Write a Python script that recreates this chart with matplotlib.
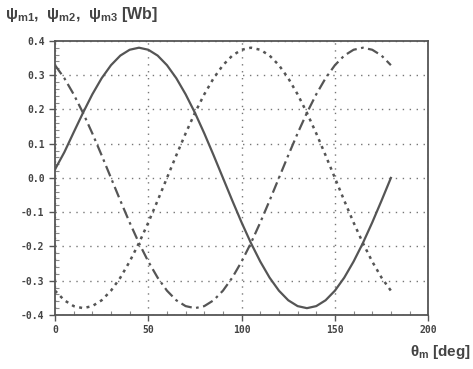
import numpy as np
import matplotlib.pyplot as plt
from matplotlib.ticker import MultipleLocator

plt.rcParams['font.family'] = ['Liberation Sans', 'DejaVu Sans']

theta = [0, 5, 10, 15, 20, 25, 30, 35, 40, 45, 50, 55, 60, 65, 70, 75, 80, 85, 90,
         95, 100, 105, 110, 115, 120, 125, 130, 135, 140, 145, 150, 155, 160, 165,
         170, 175, 180]

psi_m1 = [0.025, 0.075, 0.133, 0.19, 0.244, 0.291, 0.329, 0.357, 0.374, 0.38,
          0.374, 0.357, 0.329, 0.291, 0.244, 0.19, 0.13, 0.066, 0.0, -0.066,
          -0.13, -0.19, -0.244, -0.291, -0.329, -0.357, -0.374, -0.38, -0.374,
          -0.357, -0.329, -0.291, -0.244, -0.19, -0.13, -0.066, 0.0]

psi_m2 = [-0.329, -0.357, -0.374, -0.38, -0.374, -0.357, -0.329, -0.291, -0.244,
          -0.19, -0.13, -0.066, 0.0, 0.066, 0.13, 0.19, 0.244, 0.291, 0.329, 0.357,
          0.374, 0.38, 0.374, 0.357, 0.329, 0.291, 0.244, 0.19, 0.13, 0.066, 0.0,
          -0.066, -0.13, -0.19, -0.244, -0.291, -0.329]

psi_m3 = [0.329, 0.291, 0.244, 0.19, 0.13, 0.066, 0.0, -0.066, -0.13, -0.19,
          -0.244, -0.291, -0.329, -0.357, -0.374, -0.38, -0.374, -0.357, -0.329,
          -0.291, -0.244, -0.19, -0.13, -0.066, 0.0, 0.066, 0.13, 0.19, 0.244,
          0.291, 0.329, 0.357, 0.374, 0.38, 0.374, 0.357, 0.329]

y_ticks = [-0.4, -0.3, -0.2, -0.1, 0.0, 0.1, 0.2, 0.3, 0.4]
y_labels = ['-0.4', '-0.3', '-0.2', '-0.1', '0.0', '0.1', '0.2', '0.3', '0.4']
x_ticks = [0, 50, 100, 150, 200]

fig = plt.figure(figsize=(4.73, 3.69), dpi=100)
ax = fig.add_axes([0.1163, 0.1463, 0.789, 0.743])

line_col = '#555555'
ax.plot(theta, psi_m1, color=line_col, lw=1.6, ls='-')
ax.plot(theta, psi_m2, color=line_col, lw=1.8, ls=(0, (1.2, 1.8)))
ax.plot(theta, psi_m3, color=line_col, lw=1.6, ls=(0, (5, 2, 1.2, 2)))

ax.set_xlim(0, 200)
ax.set_ylim(-0.4, 0.4)
ax.set_xticks(x_ticks)
ax.set_yticks(y_ticks)
ax.set_yticklabels(y_labels)
ax.xaxis.set_minor_locator(MultipleLocator(10))
ax.yaxis.set_minor_locator(MultipleLocator(0.02))
ax.tick_params(which='major', direction='out', length=4, width=1, colors='#555555',
               labelsize=7, labelcolor='#444444')
ax.tick_params(which='minor', direction='in', length=3, width=0.8, colors='#888888')
for lab in ax.get_xticklabels() + ax.get_yticklabels():
    lab.set_family('DejaVu Sans Mono')
    lab.set_fontweight('bold')

ax.grid(True, which='major', ls=(0, (1, 4)), lw=1, color='#777777')

for s in ax.spines.values():
    s.set_color('#555555')
    s.set_linewidth(1.3)

fig.text(0.011, 0.962, r'$\mathregular{\psi_{m1},\ \psi_{m2},\ \psi_{m3}}$ [Wb]',
         fontsize=11.5, color='#444444', ha='left', va='center', fontweight='bold')
fig.text(0.995, 0.046, r'$\mathregular{\theta_m}$ [deg]', fontsize=11,
         color='#444444', ha='right', va='center', fontweight='bold')

fig.savefig('out.png', dpi=100)
